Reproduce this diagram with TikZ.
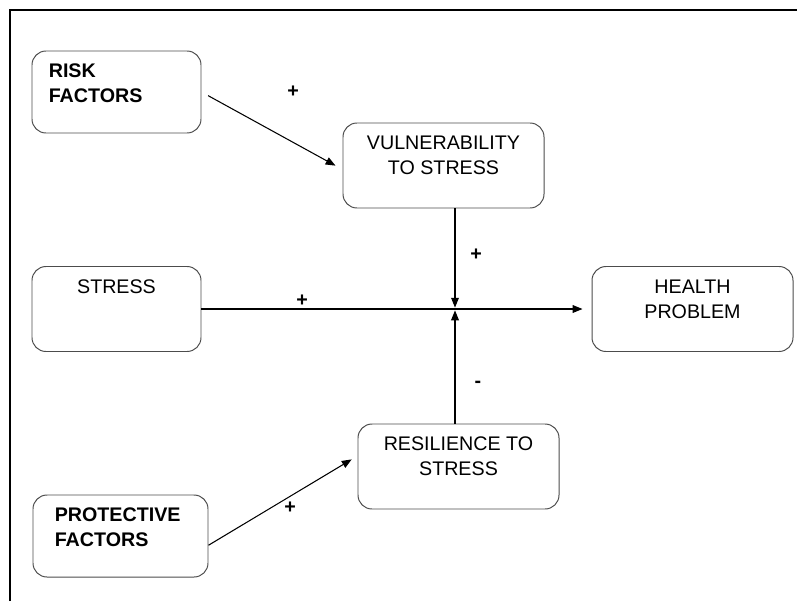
\documentclass[tikz,border=0pt]{standalone}
\usepackage{fontspec}
\setmainfont{Liberation Sans}
\usetikzlibrary{positioning,arrows.meta,calc}

\newcommand{\boxfont}{\fontsize{14pt}{17.8pt}\selectfont}

\begin{document}
\begin{tikzpicture}[
    every node/.style={font=\boxfont},
    box/.style={draw=black!70, line width=0.7pt, rounded corners=0.35cm, minimum height=2.125cm, inner sep=0pt},
    lbl/.style={inner sep=0pt, align=center},
    sign/.style={font=\boxfont\bfseries},
    link/.style={line width=0.75pt, -{Triangle[length=7pt,width=5.5pt]}}
]
    \useasboundingbox (0,0) rectangle (19.925,15.025);

    % Outer frame (top and left edge only)
    \draw[line width=1.1pt] (0.25,0) |- (19.925,14.775);

    % Boxes
    \node[box, minimum width=4.225cm, minimum height=2.05cm] (risk) at (2.9125,12.725) {};
    \node[box, minimum width=5.025cm] (vuln) at (11.0875,10.8875) {};
    \node[box, minimum width=4.225cm] (stress) at (2.9125,7.3) {};
    \node[box, minimum width=5.025cm] (health) at (17.3125,7.3) {};
    \node[box, minimum width=5.025cm] (resil) at (11.4625,3.3625) {};
    \node[box, minimum width=4.375cm, minimum height=2.05cm] (prot) at (3.0125,1.625) {};

    % Box texts
    \node[lbl, align=left, font=\boxfont\bfseries, below right=0.33cm and 0.425cm of risk.north west] (risktxt) {RISK\\FACTORS};
    \node[lbl, below=0.33cm of vuln.north] (vulntxt) {VULNERABILITY\\TO STRESS};
    \node[lbl, below=0.33cm of stress.north] (stresstxt) {STRESS};
    \node[lbl, below=0.33cm of health.north] (healthtxt) {HEALTH\\PROBLEM};
    \node[lbl, below=0.33cm of resil.north] (resiltxt) {RESILIENCE TO\\STRESS};
    \node[lbl, align=left, font=\boxfont\bfseries, below right=0.33cm and 0.55cm of prot.north west] (prottxt) {PROTECTIVE\\FACTORS};

    % Links
    \coordinate (hub) at (11.375,7.3);
    \draw[link, shorten <=0.19cm, shorten >=0.2cm] (risk.east) -- ($(vuln.west)+(0,-0.1)$);
    \draw[link, shorten >=0.225cm] (stress.east) -- (health.west);
    \draw[link, shorten >=1pt] (vuln.south -| hub) -- (hub);
    \draw[link, shorten >=1pt] (resil.north -| hub) -- (hub);
    \draw[link, shorten >=0.17cm] (prot.-6.5) -- (resil.174);

    % Signs
    \node[sign] (sgnrisk) at (7.325,12.725) {+};
    \node[sign] (sgnvuln) at (11.9,8.65) {+};
    \node[sign] (sgnstress) at (7.55,7.5) {+};
    \node[sign] (sgnresil) at (11.95,5.425) {-};
    \node[sign] (sgnprot) at (7.25,2.325) {+};
\end{tikzpicture}
\end{document}
